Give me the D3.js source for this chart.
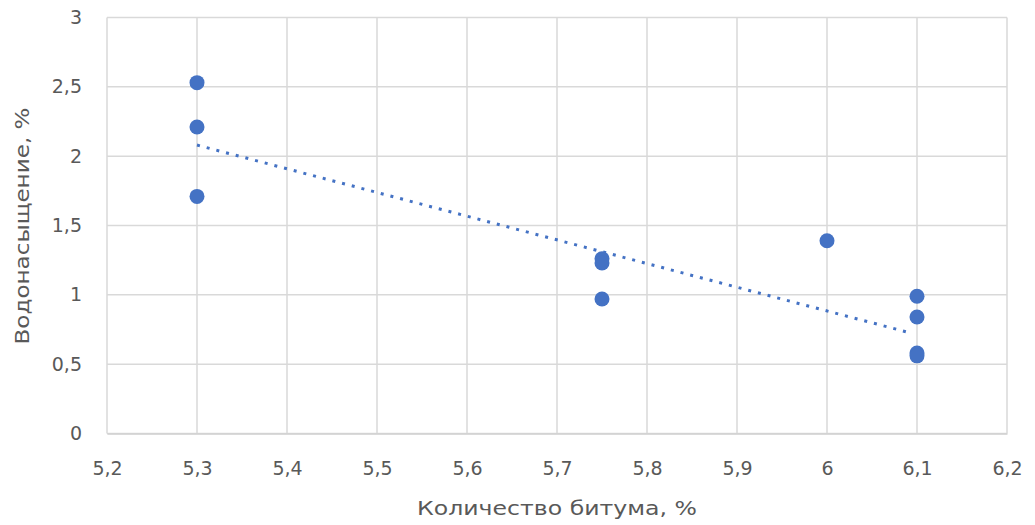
<!DOCTYPE html>
<html><head><meta charset="utf-8">
<script src="https://cdn.jsdelivr.net/npm/d3@7"></script>
<style>
html,body{margin:0;padding:0;background:#fff;}
svg{display:block;}
text{font-family:"DejaVu Sans",sans-serif;fill:#595959;}
</style></head>
<body><svg id="c" width="1035" height="525"></svg>
<script>
const bitumen = [5.3, 5.3, 5.3, 5.75, 5.75, 5.75, 6.0, 6.1, 6.1, 6.1, 6.1];
const waterSat = [2.53, 2.21, 1.71, 1.26, 1.23, 0.97, 1.39, 0.99, 0.84, 0.58, 0.56];
const trendX = [5.3, 6.09];
const trendY = [2.08, 0.73];
const xTicks = [5.2, 5.3, 5.4, 5.5, 5.6, 5.7, 5.8, 5.9, 6.0, 6.1, 6.2];
const yTicks = [0, 0.5, 1, 1.5, 2, 2.5, 3];
const xTitle = "Количество битума, %";
const yTitle = "Водонасыщение, %";

const svg = d3.select("#c");
const x = d3.scaleLinear().domain([5.2, 6.2]).range([107, 1007]);
const y = d3.scaleLinear().domain([0, 3]).range([433.5, 17.5]);
const fmt = v => String(+v.toFixed(2)).replace(".", ",");

// grid
svg.append("g").selectAll("line").data(yTicks).join("line")
  .attr("x1", x(5.2)).attr("x2", x(6.2))
  .attr("y1", d => y(d)).attr("y2", d => y(d))
  .attr("stroke", "#d9d9d9").attr("stroke-width", 1.5);
svg.append("g").selectAll("line").data(xTicks).join("line")
  .attr("y1", y(0)).attr("y2", y(3))
  .attr("x1", d => x(d)).attr("x2", d => x(d))
  .attr("stroke", "#d9d9d9").attr("stroke-width", 1.5);

// axes
const xa = svg.append("g").attr("transform", `translate(0,${y(0)})`)
  .call(d3.axisBottom(x).tickValues(xTicks).tickFormat(fmt).tickSize(0).tickPadding(28));
const ya = svg.append("g").attr("transform", `translate(${x(5.2)},0)`)
  .call(d3.axisLeft(y).tickValues(yTicks).tickFormat(fmt).tickSize(0).tickPadding(25));
[xa, ya].forEach(g => {
  g.select(".domain").attr("stroke", "#d0d0d0").attr("stroke-width", 1.5);
  g.selectAll("text").attr("font-size", 19).attr("fill", "#595959")
   .style("font-family", '"DejaVu Sans",sans-serif');
});
ya.select(".domain").remove();

// trendline
svg.append("path")
  .datum(trendX.map((d, i) => [d, trendY[i]]))
  .attr("d", d3.line().x(d => x(d[0])).y(d => y(d[1])))
  .attr("fill", "none").attr("stroke", "#4472C4")
  .attr("stroke-width", 3).attr("stroke-dasharray", "3 7");

// points
svg.append("g").selectAll("circle").data(bitumen.map((d, i) => [d, waterSat[i]])).join("circle")
  .attr("cx", d => x(d[0])).attr("cy", d => y(d[1])).attr("r", 7.5)
  .attr("fill", "#4472C4");

// titles
svg.append("text").attr("x", 557).attr("y", 515).attr("text-anchor", "middle")
  .attr("font-size", 19).attr("textLength", 280).attr("lengthAdjust", "spacingAndGlyphs").text(xTitle);
svg.append("text").attr("transform", "translate(29,226) rotate(-90)")
  .attr("text-anchor", "middle").attr("font-size", 19)
  .attr("textLength", 237).attr("lengthAdjust", "spacingAndGlyphs").text(yTitle);
</script></body></html>
